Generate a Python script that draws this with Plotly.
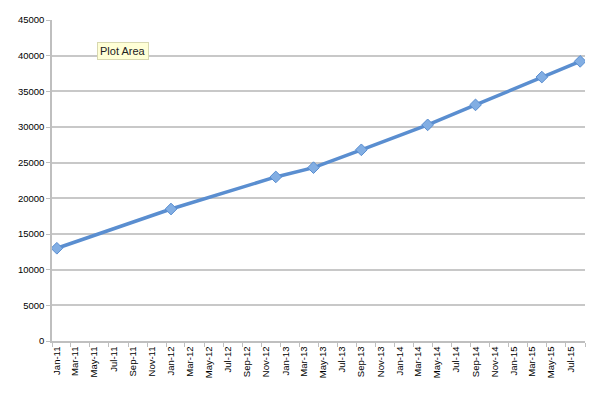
import pandas as pd
import plotly.graph_objects as go

# Data
months = ["2011-01", "2012-01", "2012-12", "2013-04", "2013-09",
          "2014-04", "2014-09", "2015-04", "2015-08"]
values = [13000, 18500, 23000, 24300, 26800, 30300, 33100, 37000, 39200]

# Category labels on the date axis (every 2 months)
label_months = pd.date_range("2011-01-01", "2015-07-01", freq="2MS")
tick_labels = [d.strftime("%b-%y") for d in label_months]

# Excel date axis: a point sits in the middle of its month slot
def mid_month(ts):
    ts = pd.Timestamp(ts)
    nxt = ts + pd.offsets.MonthBegin(1)
    return ts + (nxt - ts) / 2

x_pts = [mid_month(m + "-01") for m in months]
x_lbl = [mid_month(d) for d in label_months]

fig = go.Figure()
fig.add_trace(go.Scatter(
    x=x_pts, y=values, mode="lines+markers",
    line=dict(color="#5A8ED0", width=3.5),
    marker=dict(symbol="diamond", size=9, color="#82AEE3",
                line=dict(color="#5A8ED0", width=1)),
    showlegend=False, hoverinfo="skip",
))

# page body has an 8px margin, so the figure is sized to fit the window
fig.update_layout(
    width=594, height=393,
    margin=dict(l=44, r=17, t=12, b=60),
    paper_bgcolor="white", plot_bgcolor="white",
    font=dict(family="Liberation Sans, Arial, sans-serif", size=9, color="#000000"),
)

fig.update_xaxes(
    type="date", automargin=False,
    range=["2011-01-01", "2015-09-01"],
    tickvals=x_lbl, ticktext=tick_labels,
    tickangle=-90, ticks="", showgrid=False,
    showline=True, linecolor="#BFBFBF", linewidth=1.5,
    tickfont=dict(size=9.5, color="#000000"),
    minor=dict(ticks="outside", dtick="M2", tick0="2011-01-01",
               ticklen=4, tickcolor="#BFBFBF", tickwidth=1, showgrid=False),
    zeroline=False,
)

fig.update_yaxes(
    range=[0, 45000], dtick=5000, tick0=0, automargin=False,
    showgrid=True, gridcolor="#C8C8C8", gridwidth=1.8,
    showline=True, linecolor="#BFBFBF", linewidth=1.5,
    ticks="outside", ticklen=4, tickcolor="#BFBFBF",
    tickfont=dict(size=9.5, color="#000000"),
    zeroline=False, tickformat="d",
)

fig.add_annotation(
    xref="paper", yref="paper", x=(97 - 52) / 533, y=(340.7 - 50.5) / 320.7,
    xanchor="left", yanchor="middle",
    text="Plot Area", showarrow=False,
    font=dict(family="Liberation Sans, Arial, sans-serif", size=11, color="#222222"),
    bgcolor="#FFFFD6", bordercolor="#D8D8B0", borderwidth=1, borderpad=2,
)

fig.write_html("out.html")
